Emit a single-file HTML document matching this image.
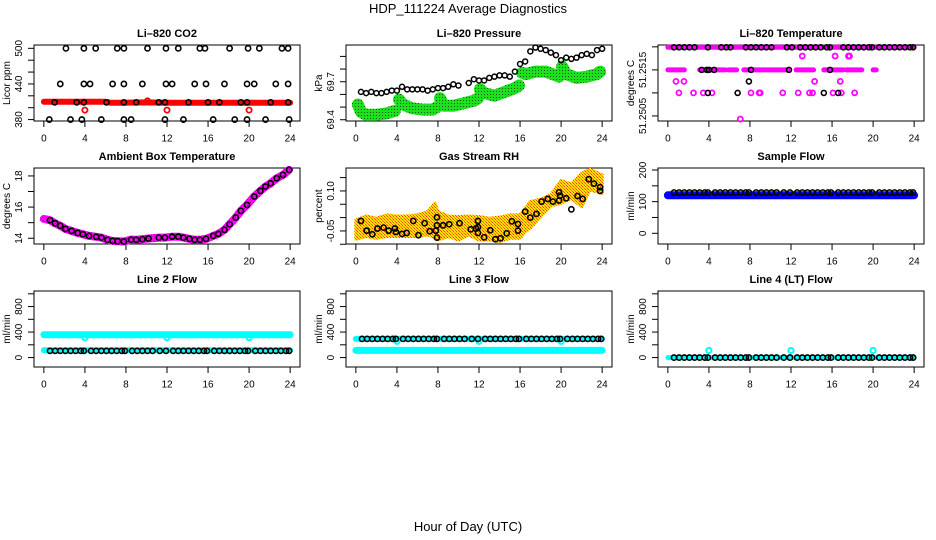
<!DOCTYPE html>
<html><head><meta charset="utf-8"><title>HDP_111224 Average Diagnostics</title>
<style>
html,body{margin:0;padding:0;background:#fff;}
svg{display:block;font-family:"Liberation Sans",Arial,sans-serif;}
</style></head>
<body>
<svg id="chart" width="936" height="540" viewBox="0 0 936 540" xmlns="http://www.w3.org/2000/svg">
<defs>
<pattern id="greenDots" width="3" height="3" patternUnits="userSpaceOnUse"><rect width="3" height="3" fill="#1fe01f"/><rect x="1" y="1" width="1" height="1" fill="#0a5a0a"/></pattern>
<pattern id="rhPat" width="3" height="3" patternUnits="userSpaceOnUse"><rect width="3" height="3" fill="#ffe000"/><rect width="1" height="1" fill="#f04000"/><rect x="1" y="1" width="1" height="1" fill="#f09000"/><rect x="2" y="2" width="1" height="1" fill="#f06000"/></pattern>
<pattern id="magPat" width="3" height="3" patternUnits="userSpaceOnUse"><rect width="3" height="3" fill="#ff00ff"/><rect x="1" y="1" width="1" height="1" fill="#a000a0"/></pattern>
</defs>
<text x="468" y="13" text-anchor="middle" font-size="13">HDP_111224  Average Diagnostics</text>
<text x="468" y="531" text-anchor="middle" font-size="13">Hour of Day (UTC)</text>
</svg>
<script>
// ---------- data ----------
const xTicks = [0,4,8,12,16,20,24];
// CO2
const co2BlackT = [2.15,3.9,5.05,7.15,7.8,10.1,11.9,13.1,15.2,15.7,18.1,19.9,21,23.2,23.8, 1.6,3.9,4.5,6.7,7.8,9.6,11.9,12.5,14.7,15.8,17.6,19.8,20.5,22.6,23.8, 1.05,3.2,3.9,6.1,7.8,9,11.2,11.8,14.1,16,17.1,19.2,19.8,22.1,23.8, 0.53,2.6,3.7,5.6,7.8,8.5,11.8,13.6,16.5,18.6,19.8,21.6,23.9];
const co2BlackV = [500,500,500,500,500,500,500,500,500,500,500,500,500,500,500, 440,440,440,440,440,440,440,440,440,440,440,440,440,440,440, 409,409,409,409,409,409,409,409,409,409,409,409,409,409,409, 380,380,380,380,380,380,380,380,380,380,380,380,380];
const co2RedT = [0,2,4,6,6.5,8,10,12,14,16,18,20,22,24];
const co2RedV = [410,410,410,410,408.5,408.5,409,408.5,408.5,408.5,408.5,408.5,408.5,408.5];
const co2RedOutT = [4,12,20,10.1];
const co2RedOutV = [396,396,396,411.5];
const co2Ticks = [380,400,420,440,460,480,500];
const co2Labels = [380,440,500];
// Pressure
const presT = [0.5,1,1.5,2,2.5,3,3.5,4,4.5,5,5.5,6,6.5,7,7.5,8,8.5,9,9.5,10,11,11.5,12,12.5,13,13.5,14,14.5,15,15.5,16,16.5,17,17.5,18,18.5,19,19.5,20,20.5,21,21.5,22,22.5,23,23.5,24];
const presV = [69.62,69.61,69.62,69.61,69.61,69.62,69.63,69.63,69.66,69.64,69.64,69.64,69.64,69.63,69.64,69.65,69.65,69.66,69.68,69.67,69.69,69.72,69.71,69.71,69.73,69.74,69.75,69.75,69.74,69.78,69.84,69.86,69.94,69.97,69.96,69.95,69.93,69.91,69.87,69.89,69.88,69.89,69.91,69.92,69.91,69.95,69.96];
const presGreenT = [0.2,0.5,1,2,3,3.8,null,4.2,4.6,5.5,6.5,7.5,7.9,null,8.2,8.6,9.5,10.5,11.5,11.9,null,12.1,12.5,13.5,14.5,15.5,15.9,null,16.2,16.6,17.5,18.5,19.5,19.8,null,20.1,20.5,21.5,22.5,23.5,23.8];
const presGreenV = [69.52,69.46,69.44,69.44,69.45,69.47,null,69.56,69.52,69.49,69.48,69.48,69.5,null,69.57,69.51,69.51,69.53,69.55,69.57,null,69.64,69.61,69.59,69.62,69.65,69.67,null,69.77,69.76,69.78,69.78,69.75,69.74,null,69.82,69.76,69.73,69.74,69.76,69.78];
const presTicks = [69.4,69.5,69.6,69.7,69.8,69.9];
const presLabels = [69.4,69.7];
// Li-820 temperature
const tempTopLevel = [51.25199];
const tempMidLevel = [51.2515];
const tempTopBandT = [0,24];
const tempMidSegStart = [0,3.1,5.9,7.4,12.5,15.2,17.4,20.0];
const tempMidSegEnd = [1.6,5.6,6.7,11.7,14.2,17.1,18.9,20.3];
const tempMagT = [13.1,16.3,17.6,17.7,0.79,1.57,14.3,16.8,1.08,2.5,3.45,4.3,8.1,8.9,9.0,11.2,12.7,13.8,14.1,16.1,16.9,18.2,7.06];
const tempMagV = [51.2518,51.2518,51.2518,51.2518,51.25125,51.25125,51.25125,51.25125,51.251,51.251,51.251,51.251,51.251,51.251,51.251,51.251,51.251,51.251,51.251,51.251,51.251,51.251,51.25043];
const tempTopBlackT = [0.6,1.1,1.6,2.1,2.6,3.9,5.2,5.7,6.1,7.6,8.1,8.6,9.1,9.6,10.1,11.6,12.1,12.9,13.4,13.9,14.4,14.9,15.5,15.8,17.1,17.6,18.1,18.6,19.1,19.6,19.9,20.6,21.1,21.6,22.1,22.6,23.1,23.6,23.9];
const tempBlackT = [3.3,3.8,4.0,4.5,8.1,11.8,15.8,7.9,3.9,6.8,15.2,16.6];
const tempBlackV = [51.2515,51.2515,51.2515,51.2515,51.2515,51.2515,51.2515,51.25125,51.251,51.251,51.251,51.251];
const tempTicks = [51.2505,51.251,51.2515,51.252];
const tempLabels = ["51.2505","51.2515"];
// Ambient box temperature
const ambT = [0,0.6,1.1,1.6,2.1,2.7,3.3,3.8,4.4,5.1,5.6,6.2,6.7,7.2,7.8,8.5,9.0,9.6,10.2,11.2,11.8,12.5,13.1,13.6,14.2,14.7,15.2,15.8,16.5,17.0,17.6,18.1,18.7,19.2,19.8,20.5,21.1,21.6,22.1,22.7,23.3,23.9];
const ambV = [15.24,15.16,14.96,14.8,14.6,14.47,14.34,14.26,14.15,14.09,14.04,13.9,13.83,13.81,13.79,13.91,13.9,13.94,13.98,14.04,14.04,14.1,14.1,14.04,13.96,13.9,13.9,13.96,14.15,14.28,14.54,14.9,15.33,15.76,16.14,16.68,17.04,17.32,17.53,17.85,18.07,18.39];
const ambTicks = [14,15,16,17,18];
const ambLabels = [14,16,18];
// Gas stream RH
const rhT = [0.5,1.05,1.6,2.1,2.7,3.2,3.8,3.9,4.5,4.95,5.6,6.1,6.7,7.2,7.8,7.9,7.9,7.9,8.5,9.1,10.1,11.2,11.7,11.9,11.9,11.9,12.5,13.1,13.6,14.1,14.7,15.2,15.8,15.8,16.5,17,17.6,18.1,18.7,19.2,19.8,19.8,19.9,20.5,21,21.6,22.1,22.7,23.2,23.8,23.8];
const rhV = [-0.0125,-0.049,-0.0625,-0.041,-0.0375,-0.049,-0.041,-0.054,-0.061,-0.0575,-0.0125,-0.066,-0.021,-0.051,-0.049,0.001,-0.029,-0.075,-0.029,-0.025,-0.021,-0.044,-0.041,-0.0125,-0.036,-0.0575,-0.074,-0.0475,-0.081,-0.0775,-0.059,-0.014,-0.024,-0.049,0.0225,0,0.014,0.06,0.07,0.06,0.064,0.095,0.0825,0.0725,0.031,0.081,0.07,0.144,0.1275,0.114,0.1];
const rhBandT = [0,1,2,3,4,5,6,7,7.7,8,9,10,11,12,13,14,15,16,16.5,17,18,19,20,21,22,22.8,24];
const rhUpper = [-0.009,0.006,-0.0025,0.01,0.006,0.006,0.01,0.0225,0.054,0.0225,0.006,0.004,0.006,0.004,-0.0025,0.001,0.01,0.01,0.035,0.06,0.069,0.085,0.139,0.126,0.166,0.181,0.16];
const rhLower = [-0.081,-0.071,-0.0775,-0.071,-0.071,-0.071,-0.071,-0.065,-0.075,-0.084,-0.071,-0.084,-0.065,-0.084,-0.084,-0.09,-0.0775,-0.0775,-0.0525,-0.04,0.004,0.044,0.054,0.0725,0.041,0.104,0.091];
const rhTicks = [-0.1,-0.05,0,0.05,0.1,0.15];
const rhLabels = ["-0.05","0.10"];
const rhLabelVals = [-0.05,0.10];
// Flows
const flowT = [0.6,1.1,1.6,2.1,2.6,3.1,3.6,3.9,4.6,5.1,5.6,6.1,6.6,7.1,7.6,7.9,8.6,9.1,9.6,10.1,10.6,11.3,11.9,12.6,13.1,13.6,14.1,14.6,15.1,15.6,15.9,16.6,17.1,17.6,18.1,18.6,19.1,19.6,19.9,20.6,21.1,21.6,22.1,22.6,23.1,23.6,23.9];
const bandT = [0,24];
const sfBlueV = [120,120];
const sfBlackLevel = [129];
const sfTicks = [0,50,100,150,200];
const sfLabels = [0,100,200];
const line2UpperV = [358,358];
const line2LowerV = [115,115];
const line2DipT = [4,12,20];
const line2DipV = [312,312,312];
const line2BlackLevel = [105];
const line3UpperV = [293,293];
const line3LowerV = [112,112];
const line3DipT = [4,12,20];
const line3DipV = [255,255,255];
const line3BlackLevel = [293];
const line4CyanV = [0,0];
const line4DipT = [4,12,20];
const line4DipV = [112,112,112];
const line4BlackLevel = [0];
const flowTicks = [0,200,400,600,800,1000];
const flowLabels = [0,400,800];

// ---------- drawing ----------
const svg = document.getElementById('chart');
const NS = 'http://www.w3.org/2000/svg';
function mk(tag, attrs, parent){const e=document.createElementNS(NS,tag);for(const k in attrs)e.setAttribute(k,attrs[k]);(parent||svg).appendChild(e);return e;}
const W=266,H=76,X0=-0.96,X1=24.96;
function panel(name,col,row,y0,y1){
  const L=34+col*312, T=45+row*123, B=T+H;
  const g=mk('g',{});
  
  
  return {g,L,T,B,sx:t=>L+(t-X0)/(X1-X0)*W, sy:v=>B-(v-y0)/(y1-y0)*H};
}
function axes(p,title,ytitle,yTicks,yLabelVals,yLabelText){
  const t=mk('text',{x:p.L+W/2,y:p.T-8,'text-anchor':'middle','font-size':'11','font-weight':'bold'},p.g);
  t.textContent=title;
  
  
  const box=mk('rect',{x:p.L,y:p.T,width:W,height:H,fill:'none',stroke:'#000','stroke-width':1},p.g);
  
  
  mk('line',{x1:p.sx(xTicks[0]),x2:p.sx(xTicks[xTicks.length-1]),y1:p.B,y2:p.B,stroke:'#000'},p.g);
  xTicks.forEach(v=>{
    mk('line',{x1:p.sx(v),x2:p.sx(v),y1:p.B,y2:p.B+6,stroke:'#000'},p.g);
    const l=mk('text',{x:p.sx(v),y:p.B+20.5,'text-anchor':'middle','font-size':'10'},p.g);
    l.textContent=v;
    
    
  });
  mk('line',{x1:p.L,x2:p.L,y1:p.sy(yTicks[0]),y2:p.sy(yTicks[yTicks.length-1]),stroke:'#000'},p.g);
  yTicks.forEach(v=>mk('line',{x1:p.L-6,x2:p.L,y1:p.sy(v),y2:p.sy(v),stroke:'#000'},p.g));
  yLabelVals.forEach((v,i)=>{
    const x=p.L-12,y=p.sy(v);
    const l=mk('text',{x:x,y:y,'text-anchor':'middle','font-size':'10',transform:`rotate(-90 ${x} ${y})`},p.g);
    l.textContent=yLabelText?yLabelText[i]:v;
    
    
  });
  const yx=p.L-24,yy=p.T+H/2;
  const yt=mk('text',{x:yx,y:yy,'text-anchor':'middle','font-size':'10',transform:`rotate(-90 ${yx} ${yy})`},p.g);
  yt.textContent=ytitle;
  
  
}
function pts(p,ts,vs,color,r,sw,name){
  ts.forEach((t,i)=>{
    const v=Array.isArray(vs)?(vs.length===1?vs[0]:vs[i]):vs;
    const c=mk('circle',{cx:p.sx(t),cy:p.sy(v),r:r,fill:'none',stroke:color,'stroke-width':sw},p.g);
    
    
  });
}
function band(p,ts,vs,stroke,width,name){
  let d='',pen=false;
  ts.forEach((t,i)=>{
    if(t===null||vs[i]===null){pen=false;return;}
    d+=(pen?'L':'M')+p.sx(t).toFixed(1)+' '+p.sy(vs[i]).toFixed(1);pen=true;
  });
  const e=mk('path',{d:d,fill:'none',stroke:stroke,'stroke-width':width,'stroke-linecap':'round','stroke-linejoin':'round'},p.g);
  
  
}

// Panel 1: CO2
let p=panel('co2',0,0,377.6,505.6);
axes(p,'Li\u2013820 CO2','Licor ppm',co2Ticks,co2Labels);
band(p,co2RedT,co2RedV,'#ff0000',6,'co2-red-band');
pts(p,co2RedOutT,co2RedOutV,'#ff0000',2.6,1.8,'co2-red-point');
pts(p,co2BlackT,co2BlackV,'#000',2.6,1.6,'co2-point');

// Panel 2: Pressure
p=panel('pressure',1,0,69.39,69.99);
axes(p,'Li\u2013820 Pressure','kPa',presTicks,presLabels);
band(p,presGreenT,presGreenV,'url(#greenDots)',12,'pressure-green-band');
pts(p,presT,presV,'#000',2.5,1.5,'pressure-point');

// Panel 3: Li-820 Temperature
p=panel('li820-temp',2,0,51.25039,51.25204);
axes(p,'Li\u2013820 Temperature','degrees C',tempTicks,[51.2505,51.2515],tempLabels);
band(p,tempTopBandT,[tempTopLevel[0],tempTopLevel[0]],'#ff00ff',5,'temp-top-band');
tempMidSegStart.forEach((s,i)=>band(p,[s,tempMidSegEnd[i]],[tempMidLevel[0],tempMidLevel[0]],'#ff00ff',5,'temp-mid-band'));
pts(p,tempMagT,tempMagV,'#ff00ff',2.5,1.8,'temp-magenta-point');
pts(p,tempTopBlackT,tempTopLevel,'#000',2.5,1.6,'temp-black-point');
pts(p,tempBlackT,tempBlackV,'#000',2.5,1.6,'temp-black-point');

// Panel 4: Ambient
p=panel('ambient-temp',0,1,13.63,18.51);
axes(p,'Ambient Box Temperature','degrees C',ambTicks,ambLabels);
band(p,ambT,ambV,'url(#magPat)',8,'ambient-magenta-band');
pts(p,ambT.slice(1),ambV.slice(1),'#000',2.6,1.6,'ambient-point');

// Panel 5: RH
p=panel('gas-rh',1,1,-0.099,0.186);
axes(p,'Gas Stream RH','percent',rhTicks,rhLabelVals,rhLabels);
{
  let d='';
  rhBandT.forEach((t,i)=>{d+=(i?'L':'M')+p.sx(t).toFixed(1)+' '+p.sy(rhUpper[i]).toFixed(1);});
  for(let i=rhBandT.length-1;i>=0;i--)d+='L'+p.sx(rhBandT[i]).toFixed(1)+' '+p.sy(rhLower[i]).toFixed(1);
  const e=mk('path',{d:d+'Z',fill:'url(#rhPat)',stroke:'url(#rhPat)','stroke-width':3,'stroke-linejoin':'round'},p.g);
  
  
}
pts(p,rhT,rhV,'#000',2.6,1.6,'rh-point');

// Panel 6: Sample flow
p=panel('sample-flow',2,1,-33.8,206.3);
axes(p,'Sample Flow','ml/min',sfTicks,sfLabels);
band(p,bandT,sfBlueV,'#0000ff',8,'sample-blue-band');
pts(p,flowT,sfBlackLevel,'#000',2.6,1.6,'sample-point');

// Panel 7: Line 2
p=panel('line2-flow',0,2,-148,1044);
axes(p,'Line 2 Flow','ml/min',flowTicks,flowLabels);
band(p,bandT,line2UpperV,'#00ffff',7,'line2-upper-band');
band(p,bandT,line2LowerV,'#00ffff',6,'line2-lower-band');
pts(p,line2DipT,line2DipV,'#00ffff',2.6,2,'line2-cyan-point');
pts(p,flowT,line2BlackLevel,'#000',2.6,1.6,'line2-point');

// Panel 8: Line 3
p=panel('line3-flow',1,2,-148,1044);
axes(p,'Line 3 Flow','ml/min',flowTicks,flowLabels);
band(p,bandT,line3UpperV,'#00ffff',6,'line3-upper-band');
band(p,bandT,line3LowerV,'#00ffff',7,'line3-lower-band');
pts(p,line3DipT,line3DipV,'#00ffff',2.6,2,'line3-cyan-point');
pts(p,flowT,line3BlackLevel,'#000',2.6,1.6,'line3-point');

// Panel 9: Line 4
p=panel('line4-flow',2,2,-148,1044);
axes(p,'Line 4 (LT) Flow','ml/min',flowTicks,flowLabels);
band(p,bandT,line4CyanV,'#00ffff',5,'line4-cyan-band');
pts(p,line4DipT,line4DipV,'#00ffff',2.6,2,'line4-cyan-point');
pts(p,flowT,line4BlackLevel,'#000',2.6,1.6,'line4-point');
</script>
</body></html>
